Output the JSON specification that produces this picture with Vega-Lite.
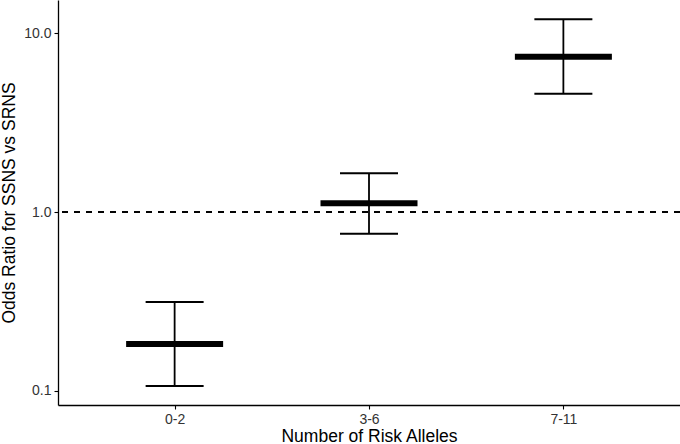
{
  "$schema": "https://vega.github.io/schema/vega-lite/v6.json",
  "width": 622,
  "height": 405,
  "autosize": "none",
  "padding": {"left": 58, "top": 0, "right": 0, "bottom": 39},
  "background": "white",
  "config": {
    "view": {"stroke": null},
    "font": "Liberation Sans",
    "axis": {
      "domainColor": "black",
      "domainWidth": 1.3,
      "tickColor": "black",
      "tickWidth": 1.1,
      "tickSize": 4,
      "labelColor": "#333333",
      "labelFontSize": 14,
      "labelFont": "Liberation Sans",
      "titleFont": "Liberation Sans",
      "titleFontSize": 17.5,
      "titleFontWeight": "normal",
      "titleColor": "black",
      "grid": false
    }
  },
  "data": {
    "values": [
      {"alleles": "0-2", "or": 0.183, "lower": 0.1066, "upper": 0.314},
      {"alleles": "3-6", "or": 1.118, "lower": 0.756, "upper": 1.645},
      {"alleles": "7-11", "or": 7.375, "lower": 4.58, "upper": 11.93}
    ]
  },
  "encoding": {
    "x": {
      "field": "alleles",
      "type": "nominal",
      "scale": {"type": "point", "padding": 0.6},
      "sort": ["0-2", "3-6", "7-11"],
      "axis": {"title": "Number of Risk Alleles", "labelAngle": 0, "labelPadding": 3, "titlePadding": 1}
    }
  },
  "layer": [
    {
      "mark": {"type": "rule", "strokeDash": [6, 6], "strokeWidth": 1.6, "color": "black"},
      "encoding": {"y": {"datum": 1}, "x": null}
    },
    {
      "mark": {"type": "rule", "strokeWidth": 1.8, "color": "black"},
      "encoding": {
        "y": {
          "field": "lower",
          "type": "quantitative",
          "scale": {"type": "log", "domain": [0.0835, 15.3], "nice": false},
          "axis": {"title": "Odds Ratio for SSNS vs SRNS", "values": [0.1, 1, 10], "format": ".1f", "titlePadding": 5, "labelPadding": 3}
        },
        "y2": {"field": "upper"}
      }
    },
    {
      "mark": {"type": "tick", "size": 58, "thickness": 2, "color": "black", "opacity": 1},
      "encoding": {"y": {"field": "lower", "type": "quantitative"}}
    },
    {
      "mark": {"type": "tick", "size": 58, "thickness": 2, "color": "black", "opacity": 1},
      "encoding": {"y": {"field": "upper", "type": "quantitative"}}
    },
    {
      "mark": {"type": "tick", "size": 97, "thickness": 6, "color": "black", "opacity": 1},
      "encoding": {"y": {"field": "or", "type": "quantitative"}}
    }
  ]
}
